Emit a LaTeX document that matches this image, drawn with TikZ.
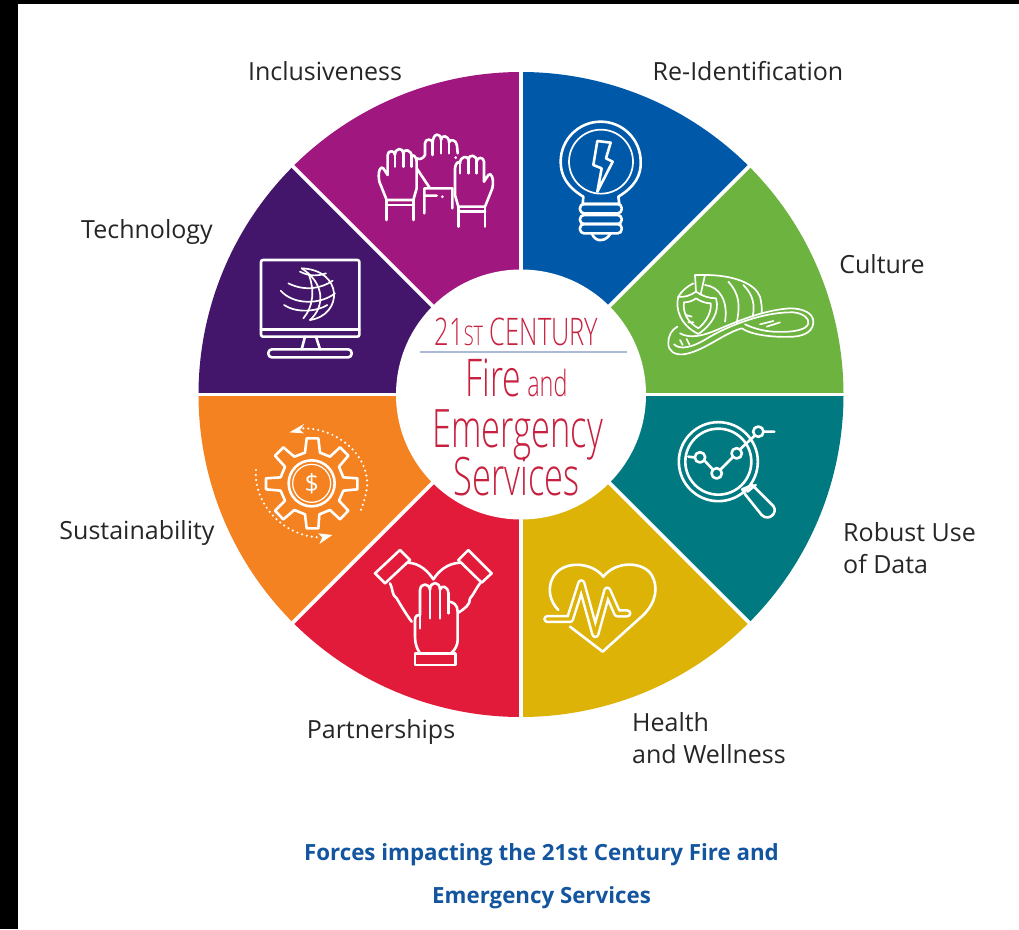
\documentclass[tikz,border=0pt]{standalone}
\usepackage{fontspec}
\setmainfont{Open Sans}
\newfontfamily\condfont[FakeStretch=0.65]{Open Sans Light}
\newfontfamily\condwide[FakeStretch=0.67]{Open Sans Light}
\definecolor{cblue}{HTML}{0058A8}
\definecolor{cgreen}{HTML}{6CB33F}
\definecolor{cteal}{HTML}{007A80}
\definecolor{cgold}{HTML}{DDB308}
\definecolor{cred}{HTML}{E31B3A}
\definecolor{corange}{HTML}{F58220}
\definecolor{cviolet}{HTML}{43156B}
\definecolor{cmagenta}{HTML}{A0187F}
\definecolor{crimson}{HTML}{C8203F}
\definecolor{capblue}{HTML}{14559F}
\definecolor{rulecol}{HTML}{A9B9D6}
\tikzset{
  lab/.style={font=\fontsize{25}{25}\selectfont,text=black!85,inner sep=0pt},
  capt/.style={font=\fontsize{22.3}{22}\selectfont\bfseries,text=capblue,inner sep=0pt,anchor=base},
  hubt/.style={text=crimson,inner sep=0pt,anchor=base},
  icon/.style={draw=white,line width=2.6pt,line cap=round,line join=round},
  thin icon/.style={icon,line width=1.7pt},
  zoomed/.style={x=0.33333pt,y=-0.33333pt},
  hand/.pic={
    \path[icon,fill=cmagenta] (-40,-5) -- (-62,-60) .. controls (-68,-90) and (-58,-110) .. (-50,-100) -- (-37,-80) -- (-37,-140)
      .. controls (-37,-155) and (-15,-155) .. (-15,-140) .. controls (-15,-163) and (10,-163) .. (10,-145)
      .. controls (10,-160) and (35,-157) .. (35,-135) .. controls (37,-145) and (50,-135) .. (50,-120) -- (50,-40) -- (40,-5) -- cycle;
    \path[icon] (-15,-140) -- (-15,-105) (10,-145) -- (10,-105) (35,-135) -- (35,-105);
    \path[icon] (-40,-5) -- (-40,55) (40,-5) -- (40,55) (-40,10) -- (40,10);
  }
}
\begin{document}
\begin{tikzpicture}[x=1pt,y=-1pt]
\useasboundingbox (0,0) rectangle (1019,929);
\fill[white] (0,0) rectangle (1019,929);
\fill[black] (0,0) rectangle (1019,4);
\fill[black] (0,0) rectangle (18,929);
\coordinate (O) at (521,394.5);
\foreach \a/\c in {0/cgreen,45/cblue,90/cmagenta,135/cviolet,180/corange,225/cred,270/cgold,315/cteal}{
  \fill[\c] (O) -- ([shift={(O)}]\a:322.5pt) arc[start angle=\a,delta angle=45,radius=322.5pt] -- cycle;
}
\foreach \a in {0,45,...,315}{
  \coordinate (rim\a) at ([shift={(O)}]\a:325pt);
  \draw[white,line width=3.6pt] (O) -- (rim\a);
}
\node[circle,fill=white,minimum size=250pt,inner sep=0pt] (hub) at (O) {};

% hub text
\node[hubt,font=\condwide\fontsize{38}{38}\selectfont] (t1) at (516.5,345) {21{\fontsize{27}{27}\selectfont ST} CENTURY};
\coordinate (ruleL) at (420,352);
\coordinate (ruleR) at (627,352);
\draw[rulecol,line width=1.6pt] (ruleL) -- (ruleR);
\node[hubt,font=\condfont\fontsize{52}{52}\selectfont] (t2) at (516.5,396) {Fire{\fontsize{36}{36}\selectfont\ and}};
\node[hubt,font=\condfont\fontsize{53}{53}\selectfont] (t3) at (517.5,447) {Emergency};
\node[hubt,font=\condfont\fontsize{53}{53}\selectfont] (t4) at (516.5,495) {Services};

% labels
\node[lab] (l1) at (325,71) {Inclusiveness};
\node[lab] (l2) at (748,71) {Re-Identification};
\node[lab] (l3) at (147,232.5) {Technology};
\node[lab] (l4) at (882,264) {Culture};
\node[lab,anchor=west,align=left] (l5) at (843,548) {Robust Use\\[7pt]of Data};
\node[lab] (l6) at (137,532.5) {Sustainability};
\node[lab] (l7) at (381,732) {Partnerships};
\node[lab,anchor=west,align=left] (l8) at (632,738) {Health\\[7pt]and Wellness};
\node[capt] (c1) at (541.5,860) {Forces impacting the 21st Century Fire and};
\node[capt] (c2) at (541.5,903) {Emergency Services};

% monitor + globe
\begin{scope}[shift={(250,250)},zoomed]
\draw[icon,rounded corners=2pt] (33,30) rectangle (328,260);
\draw[icon] (33,238) -- (328,238);
\draw[icon] (165,260) -- (155,298) (198,260) -- (210,298);
\draw[icon,rounded corners=3.5pt] (55,298) rectangle (305,322);
\draw[thin icon] (155,55) .. controls (280,60) and (280,195) .. (180,210);
\draw[thin icon] (155,55) .. controls (225,100) and (225,170) .. (180,210);
\draw[thin icon] (175,70) .. controls (195,120) and (190,170) .. (160,205);
\draw[thin icon] (150,65) .. controls (180,80) and (205,78) .. (228,70);
\draw[thin icon] (115,100) .. controls (165,125) and (215,115) .. (248,92);
\draw[thin icon] (92,122) .. controls (130,165) and (210,165) .. (255,130);
\draw[thin icon] (102,165) .. controls (140,190) and (200,185) .. (232,165);
\end{scope}

% raised hands
\begin{scope}[shift={(365,125)},zoomed]
\draw[icon] (155,100) .. controls (165,105) and (175,100) .. (180,90) -- (180,55) .. controls (180,40) and (203,40) .. (203,55) .. controls (203,22) and (228,22) .. (228,45) .. controls (228,28) and (252,30) .. (252,52) .. controls (254,40) and (276,45) .. (276,62) -- (278,85);
\draw[icon] (203,55) -- (203,90) (228,45) -- (228,85) (252,52) -- (252,85);
\draw[icon] (155,130) -- (195,190) (178,190) -- (178,265) (178,190) -- (262,190) (178,212) -- (215,212) (262,190) -- (262,250);
\fill[white] (232,215) circle[radius=1.5pt] (272,98) circle[radius=1.5pt];
\path (105,230) pic {hand};
\path (320,250) pic[xscale=-1] {hand};
\end{scope}

% bulb
\begin{scope}[shift={(520,80)},zoomed]
\draw[icon] (190,350) .. controls (140,320) and (122,285) .. (122,245) arc[start angle=180,end angle=0,radius=40pt] .. controls (364,285) and (345,320) .. (295,350) -- (298,372) -- (188,372) -- cycle;
\draw[thin icon] (243,245) circle[radius=32pt];
\draw[icon] (232,183) -- (272,188) -- (258,235) -- (278,245) -- (232,335) -- (245,265) -- (220,255) -- cycle;
\draw[icon,rounded corners=4pt] (180,372) rectangle (305,400);
\draw[icon,rounded corners=4pt] (180,405) rectangle (305,432);
\draw[icon,rounded corners=4pt] (180,432) rectangle (305,460);
\draw[icon] (215,460) .. controls (222,475) and (232,482) .. (243,480) .. controls (255,480) and (265,472) .. (272,460);
\end{scope}

% helmet
\begin{scope}[shift={(660,265)},zoomed]
\draw[thin icon] (25,235) .. controls (25,210) and (35,195) .. (52,185) (25,235) .. controls (25,260) and (45,270) .. (70,268) .. controls (130,260) and (190,205) .. (245,190) .. controls (275,210) and (340,218) .. (400,215) .. controls (440,212) and (460,195) .. (460,170) .. controls (460,145) and (430,130) .. (390,130) .. controls (310,135) and (230,170) .. (170,195) .. controls (130,212) and (90,222) .. (60,205);
\draw[thin icon] (42,238) .. controls (60,255) and (95,250) .. (150,215) .. controls (220,175) and (320,140) .. (400,142) .. controls (430,145) and (448,160) .. (445,175) .. controls (440,195) and (400,203) .. (340,200) .. controls (310,198) and (280,190) .. (255,178);
\draw[thin icon] (108,80) .. controls (90,92) and (72,98) .. (55,95) .. controls (45,130) and (60,180) .. (115,207) .. controls (155,180) and (180,140) .. (168,100) .. controls (145,100) and (125,92) .. (108,80) -- cycle;
\draw[thin icon] (108,100) .. controls (98,108) and (85,112) .. (72,112) .. controls (68,140) and (80,170) .. (115,190) .. controls (140,170) and (155,140) .. (152,115) .. controls (135,115) and (120,108) .. (108,100) -- cycle;
\draw[thin icon] (108,80) -- (105,30) -- (135,30) -- (122,88);
\draw[thin icon] (100,55) .. controls (80,65) and (65,78) .. (55,95);
\draw[thin icon] (135,30) .. controls (220,30) and (285,55) .. (300,95) .. controls (305,115) and (306,130) .. (305,145);
\draw[thin icon] (135,60) .. controls (180,65) and (205,110) .. (195,170);
\draw[thin icon] (205,50) .. controls (240,90) and (240,120) .. (230,175);
\draw[thin icon] (250,60) .. controls (280,90) and (285,120) .. (278,155);
\draw[thin icon] (78,150) -- (95,155) (85,172) -- (100,172) (300,178) -- (340,168) (320,185) -- (360,172) (60,225) -- (68,240) (80,222) -- (88,238);
\end{scope}

% gear
\begin{scope}[shift={(200,400)},zoomed]
\coordinate (gc) at (335,250);
\draw[icon] (320,115) -- (355,115) -- (360,158) -- (390,170) -- (420,142) -- (445,167) -- (417,200) -- (430,232) -- (472,235) -- (472,268) -- (430,272) -- (417,302) -- (445,332) -- (420,358) -- (390,330) -- (358,343) -- (355,385) -- (320,385) -- (315,343) -- (283,330) -- (250,358) -- (225,332) -- (255,302) -- (242,272) -- (198,268) -- (198,235) -- (242,232) -- (255,200) -- (225,167) -- (250,142) -- (283,170) -- (315,158) -- cycle;
\draw[icon] (gc) circle[radius=23pt];
\draw[icon,line width=1.2pt] (gc) circle[radius=19pt];
\node[inner sep=0pt,text=white,font=\fontsize{25}{25}\selectfont] (dollar) at (gc) {\$};
\draw[white,line width=2.4pt,line cap=round,dash pattern=on 0pt off 5pt] (310,85) .. controls (410,85) and (500,160) .. (502,250) .. controls (500,280) and (490,315) .. (478,340);
\draw[white,line width=2.4pt,line cap=round,dash pattern=on 0pt off 5pt] (168,210) .. controls (160,310) and (250,410) .. (360,412);
\fill[white] (268,97) -- (312,72) -- (300,90) -- (312,100) -- cycle;
\fill[white] (397,405) -- (355,400) -- (367,412) -- (358,432) -- cycle;
\end{scope}

% joined hands
\begin{scope}[shift={(365,540)},zoomed]
\draw[icon] (30,100) -- (105,30) -- (135,60) -- (60,130) -- cycle;
\draw[icon] (380,100) -- (310,30) -- (280,60) -- (350,128) -- cycle;
\draw[icon] (130,68) .. controls (165,70) and (190,95) .. (205,118) .. controls (220,95) and (245,70) .. (285,68);
\draw[icon] (75,130) .. controls (85,150) and (80,165) .. (95,175) .. controls (110,200) and (125,225) .. (140,245);
\draw[icon] (345,130) .. controls (330,150) and (325,165) .. (315,175) .. controls (315,195) and (300,205) .. (280,218);
\draw[icon] (165,340) .. controls (155,325) and (150,310) .. (150,290) -- (150,240) .. controls (150,228) and (158,222) .. (165,225) -- (165,150) .. controls (167,128) and (193,128) .. (195,150) .. controls (195,122) and (225,122) .. (225,150) .. controls (227,133) and (250,138) .. (250,160) -- (250,185) .. controls (265,185) and (278,195) .. (278,215) -- (278,300) .. controls (278,315) and (270,330) .. (258,340);
\draw[icon] (195,150) -- (195,235) (225,150) -- (225,235) (250,160) -- (250,220) (165,225) -- (165,265);
\draw[icon] (150,340) rectangle (272,375);
\end{scope}

% heart + magnifier
\begin{scope}[shift={(520,400)},zoomed]
\draw[icon] (150,680) -- (248,755) -- (370,645) .. controls (410,605) and (415,560) .. (395,525) .. controls (370,485) and (290,480) .. (250,530) .. controls (215,485) and (130,480) .. (100,530) .. controls (80,565) and (90,605) .. (115,630);
\draw[white,line width=8.4pt,line join=round,line cap=round] (82,657) -- (150,657) -- (184,550) -- (226,702) -- (262,572) -- (292,640) -- (322,640);
\draw[cgold,line width=3.4pt,line join=round,line cap=round] (82,657) -- (150,657) -- (184,550) -- (226,702) -- (262,572) -- (292,640) -- (322,640);
\draw[icon] (595,185) circle[radius=39.5pt];
\draw[icon] (595,185) circle[radius=33pt];
\draw[icon] (505,170) -- (522,172) (552,180) -- (578,208) (602,208) -- (638,172) (660,148) -- (704,107) (732,95) -- (763,95);
\draw[icon] (540,172) circle[radius=5.2pt] (590,220) circle[radius=5.2pt] (650,160) circle[radius=5.2pt] (715,95) circle[radius=5.2pt];
\draw[icon] (667,268) -- (697,255) -- (760,318) .. controls (775,340) and (745,365) .. (725,345) -- (677,285) -- cycle;
\draw[icon] (682,275) -- (707,255);
\end{scope}
\end{tikzpicture}
\end{document}
